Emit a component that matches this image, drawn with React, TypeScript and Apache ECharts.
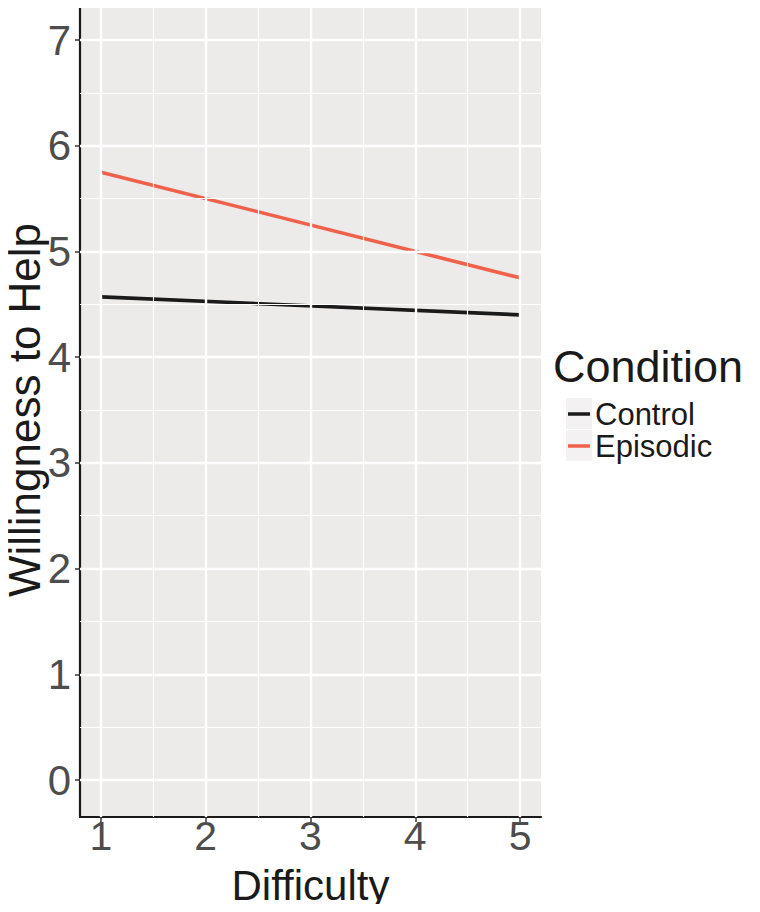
import React, { useEffect, useRef } from "react";
import * as echarts from "echarts";

const xTicks = [1, 2, 3, 4, 5];
const yTicks = [0, 1, 2, 3, 4, 5, 6, 7];
const xMinor = [1.5, 2.5, 3.5, 4.5];
const yMinor = [0.5, 1.5, 2.5, 3.5, 4.5, 5.5, 6.5];
const conditions = ["Control", "Episodic"];
const difficulty = [1, 5];
const controlValues = [4.57, 4.4];
const episodicValues = [5.75, 4.75];
const colors = ["#1a1a1a", "#EF614B"];

const FONT = "'Liberation Sans', Arial, Helvetica, sans-serif";

export default function App() {
  const ref = useRef<HTMLDivElement>(null);
  useEffect(() => {
    if (!ref.current) return;
    const chart = echarts.init(ref.current, null, { renderer: "svg" });
    const seriesVals = [controlValues, episodicValues];
    const gridLines: any[] = [
      ...yTicks.map((v) => ({ yAxis: v, lineStyle: { width: 2.4 } })),
      ...yMinor.map((v) => ({ yAxis: v, lineStyle: { width: 1.1 } })),
      ...xTicks.map((v) => ({ xAxis: v, lineStyle: { width: 2.4 } })),
      ...xMinor.map((v) => ({ xAxis: v, lineStyle: { width: 1.1 } })),
    ];
    chart.setOption({
      animation: false,
      textStyle: { fontFamily: FONT },
      grid: {
        left: 80,
        right: 219,
        top: 3,
        bottom: 95,
        show: true,
        backgroundColor: "#EDEAEA",
        borderWidth: 0,
        containLabel: false,
        outerBoundsMode: "none",
      },
      xAxis: {
        type: "value",
        min: 0.8,
        max: 5.2,
        name: "Difficulty",
        nameLocation: "middle",
        nameGap: 48,
        nameMoveOverlap: false,
        nameTextStyle: { fontSize: 42, lineHeight: 40, color: "#1a1a1a", fontFamily: FONT },
        axisLine: { show: true, onZero: false, lineStyle: { color: "#1a1a1a", width: 2.2 } },
        axisTick: { show: true, length: 5, customValues: xTicks, lineStyle: { color: "#333", width: 1.5 } },
        axisLabel: { customValues: xTicks, fontSize: 41, lineHeight: 38, color: "#4D4D4D", margin: 0, fontFamily: FONT },
        splitLine: { show: false },
      },
      yAxis: {
        type: "value",
        min: -0.35,
        max: 7.35,
        name: "Willingness to Help",
        nameLocation: "middle",
        nameGap: 36,
        nameMoveOverlap: false,
        nameTextStyle: { fontSize: 44, lineHeight: 40, color: "#1a1a1a", fontFamily: FONT },
        axisLine: { show: true, onZero: false, lineStyle: { color: "#1a1a1a", width: 2.2 } },
        axisTick: { show: true, length: 5, customValues: yTicks, lineStyle: { color: "#333", width: 1.5 } },
        axisLabel: { customValues: yTicks, fontSize: 42, color: "#4D4D4D", margin: 9, fontFamily: FONT },
        splitLine: { show: false },
      },
      legend: {
        data: conditions,
        orient: "vertical",
        left: 568,
        top: 398,
        padding: 0,
        itemWidth: 22,
        itemHeight: 3.5,
        itemGap: 0,
        icon: "rect",
        textStyle: { fontSize: 31, lineHeight: 32, color: "#1a1a1a", fontFamily: FONT },
      },
      graphic: [
        {
          type: "text",
          left: 553,
          top: 344,
          style: { text: "Condition", fontSize: 45, fill: "#1a1a1a", fontFamily: FONT },
        },
        {
          type: "rect",
          shape: { x: 566, y: 398, width: 26, height: 31 },
          style: { fill: "#F3F1F1" },
          z: -1,
        },
        {
          type: "rect",
          shape: { x: 566, y: 430, width: 26, height: 31 },
          style: { fill: "#F3F1F1" },
          z: -1,
        },
      ],
      series: [
        {
          name: "__grid",
          type: "line",
          data: [[difficulty[0], yTicks[0]]],
          showSymbol: false,
          lineStyle: { opacity: 0 },
          silent: true,
          z: 1,
          markLine: {
            silent: true,
            symbol: ["none", "none"],
            label: { show: false },
            lineStyle: { color: "#ffffff", type: "solid" },
            data: gridLines,
          },
        },
        ...conditions.map((name, i) => ({
          name,
          type: "line",
          z: 3,
          showSymbol: false,
          color: colors[i],
          lineStyle: { width: 3.6, color: colors[i] },
          data: difficulty.map((d, j) => [d, seriesVals[i][j]]),
        })),
      ],
    });
    return () => chart.dispose();
  }, []);
  return <div ref={ref} style={{ width: 760, height: 912, margin: -8 }} />;
}
